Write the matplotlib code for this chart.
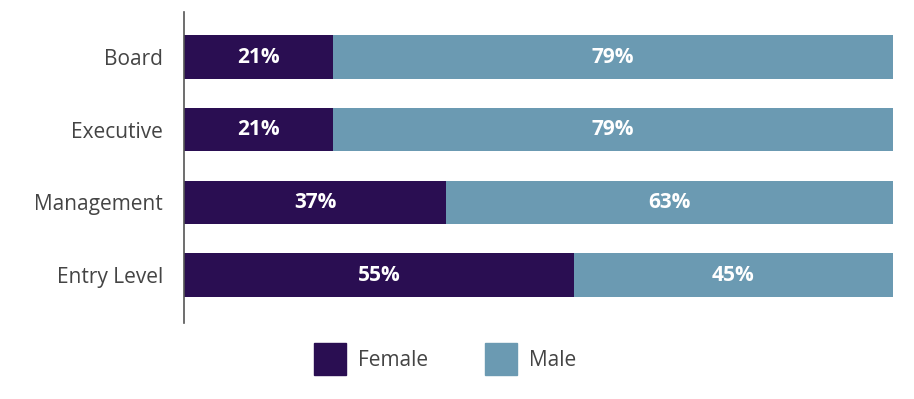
import matplotlib
matplotlib.use("Agg")
import matplotlib.pyplot as plt
from matplotlib.patches import Patch

categories = ["Board", "Executive", "Management", "Entry Level"]
female = [21, 21, 37, 55]
male = [79, 79, 63, 45]

female_color = "#2a0e52"
male_color = "#6b9ab2"

plt.rcParams["font.family"] = ["Open Sans", "DejaVu Sans"]

fig = plt.figure(figsize=(9.14, 3.99), dpi=100)
ax = fig.add_axes([0.2013, 0.1905, 0.7753, 0.7795])

ypos = list(range(len(categories)))[::-1]
h = 0.6
ax.barh(ypos, female, height=h, color=female_color, label="Female")
ax.barh(ypos, male, left=female, height=h, color=male_color, label="Male")

for y, f, m in zip(ypos, female, male):
    ax.text(f / 2, y, f"{f}%", ha="center", va="center", color="white",
            fontsize=15, fontweight="bold")
    ax.text(f + m / 2, y, f"{m}%", ha="center", va="center", color="white",
            fontsize=15, fontweight="bold")

ax.set_xlim(0, 100)
ax.set_ylim(-0.66, 3.62)
ax.set_yticks(ypos)
ax.set_yticklabels(categories, fontsize=15, color="#444444")
ax.tick_params(axis="y", length=0, pad=15)
ax.set_xticks([])
for s in ["top", "right", "bottom"]:
    ax.spines[s].set_visible(False)
ax.spines["left"].set_color("#555555")
ax.spines["left"].set_linewidth(1.2)

handles = [Patch(color=female_color, label="Female"), Patch(color=male_color, label="Male")]
fig.legend(handles=handles, loc="center", bbox_to_anchor=(0.487, 0.1), ncol=2,
           frameon=False, fontsize=15, handlelength=1.55, handleheight=1.55,
           columnspacing=2.7, handletextpad=0.6, labelcolor="#444444")
for p in fig.legends[0].get_patches():
    p.set_height(p.get_height() * 1.2)
    p.set_y(p.get_y() - p.get_height() * 0.08)

fig.savefig("out.png", dpi=100)
